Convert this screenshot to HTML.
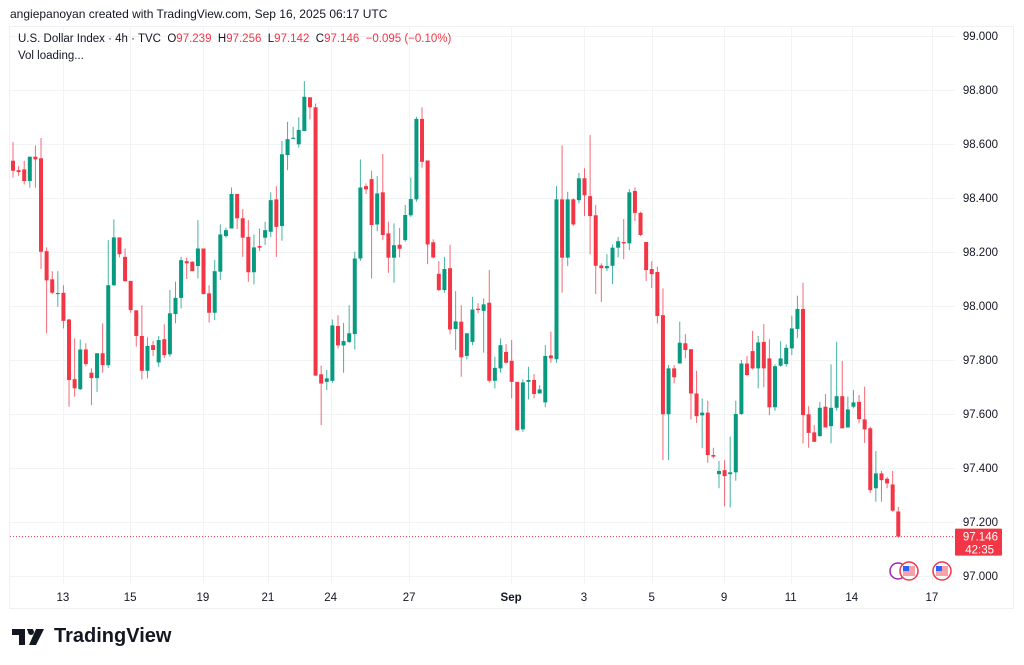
<!DOCTYPE html>
<html><head><meta charset="utf-8">
<style>
body{margin:0;background:#fff;font-family:"Liberation Sans",sans-serif;}
#wrap{position:relative;width:1024px;height:665px;overflow:hidden;background:#fff;}
.hdr{position:absolute;left:10px;top:7px;font-size:12px;color:#131722;}
.legend{position:absolute;left:18px;top:33px;font-size:11.5px;color:#131722;white-space:nowrap;}
.legend .v{color:#f23645;}
.vol{position:absolute;left:18px;top:50px;font-size:11.5px;color:#131722;}
.logo{position:absolute;left:12px;top:625px;font-size:20px;font-weight:bold;color:#131722;display:flex;align-items:center;gap:6px;}
</style></head>
<body>
<div id="wrap">
<div class="hdr">angiepanoyan created with TradingView.com, Sep 16, 2025 06:17 UTC</div>
<svg id="chart" width="1024" height="665" style="position:absolute;left:0;top:0"></svg>
<div class="legend">U.S. Dollar Index · 4h · TVC &nbsp;O<span class="v">97.239</span> &nbsp;H<span class="v">97.256</span> &nbsp;L<span class="v">97.142</span> &nbsp;C<span class="v">97.146</span> &nbsp;<span class="v">−0.095 (−0.10%)</span></div>
<div class="vol">Vol loading...</div>
<div class="logo"><svg width="36" height="16" viewBox="0 0 36 16"><path d="M0 0h13v16h-6V6H0z M15 0a3 3 0 1 1 0 .1z M24 0h8l-8 16h-7z" fill="#131722"/><circle cx="19" cy="3" r="3" fill="#131722"/></svg><span>TradingView</span></div>
</div>
<script>
const opens=[98.538,98.503,98.506,98.463,98.553,98.547,98.203,98.099,98.044,98.049,97.950,97.729,97.692,97.839,97.753,97.733,97.825,97.781,98.077,98.254,98.182,98.093,97.984,97.889,97.760,97.855,97.791,97.877,97.821,97.970,98.030,98.166,98.164,98.148,98.213,98.047,97.975,98.127,98.259,98.287,98.415,98.325,98.256,98.125,98.222,98.253,98.275,98.395,98.296,98.559,98.619,98.599,98.648,98.773,98.736,97.747,97.719,97.723,97.926,97.854,97.867,97.896,98.176,98.444,98.470,98.302,98.421,98.269,98.179,98.227,98.244,98.336,98.395,98.693,98.539,98.236,98.119,98.059,98.140,97.915,97.942,97.815,97.867,97.990,97.982,98.012,97.723,97.769,97.830,97.797,97.719,97.543,97.719,97.726,97.676,97.643,97.817,97.803,98.395,98.179,98.395,98.392,98.473,98.407,98.336,98.150,98.140,98.149,98.216,98.237,98.232,98.426,98.345,98.237,98.137,98.126,97.966,97.599,97.769,97.787,97.862,97.840,97.676,97.595,97.605,97.448,97.377,97.392,97.377,97.384,97.600,97.787,97.833,97.769,97.867,97.806,97.625,97.779,97.785,97.843,97.915,97.989,97.599,97.532,97.518,97.627,97.555,97.623,97.666,97.550,97.627,97.645,97.580,97.547,97.325,97.380,97.360,97.339,97.239];
const highs=[98.607,98.518,98.538,98.553,98.595,98.622,98.217,98.129,98.129,98.077,97.952,97.880,97.876,97.862,97.769,97.825,97.936,98.244,98.321,98.254,98.213,98.093,97.984,98.003,97.884,97.871,97.889,97.932,98.059,98.090,98.182,98.179,98.166,98.318,98.213,98.077,98.170,98.302,98.290,98.439,98.415,98.359,98.318,98.265,98.287,98.312,98.421,98.444,98.611,98.682,98.664,98.699,98.833,98.773,98.750,97.779,97.763,97.950,97.966,97.938,98.003,98.201,98.543,98.454,98.501,98.481,98.563,98.312,98.306,98.289,98.374,98.476,98.701,98.736,98.539,98.247,98.166,98.182,98.227,98.055,98.003,97.899,98.034,98.010,98.028,98.133,97.812,97.880,97.859,97.874,97.719,97.728,97.775,97.748,97.707,97.855,97.905,98.444,98.595,98.423,98.399,98.493,98.510,98.633,98.374,98.158,98.192,98.228,98.256,98.322,98.433,98.439,98.349,98.237,98.166,98.145,98.065,97.781,97.781,97.942,97.896,97.840,97.760,97.658,97.649,97.475,97.426,97.429,97.516,97.649,97.800,97.815,97.908,97.889,97.933,97.877,97.784,97.870,97.858,97.964,98.038,98.086,97.629,97.559,97.645,97.674,97.784,97.867,97.797,97.664,97.689,97.670,97.701,97.553,97.463,97.389,97.367,97.389,97.256];
const lows=[98.476,98.482,98.450,98.438,98.438,98.137,97.899,98.044,97.997,97.917,97.627,97.664,97.689,97.777,97.633,97.682,97.753,97.771,98.074,98.180,98.090,97.975,97.849,97.728,97.732,97.815,97.775,97.808,97.812,97.936,97.991,98.100,98.129,98.102,98.044,97.939,97.948,98.096,98.253,98.287,98.285,98.182,98.090,98.080,98.203,98.226,98.256,98.182,98.242,98.503,98.618,98.586,98.648,98.691,97.742,97.559,97.689,97.716,97.843,97.753,97.862,97.839,98.167,98.415,98.102,98.277,98.244,98.123,98.086,98.180,98.238,98.330,98.386,98.512,98.155,98.176,98.056,98.049,97.895,97.837,97.738,97.802,97.855,97.973,97.827,97.716,97.695,97.753,97.787,97.658,97.538,97.534,97.654,97.658,97.676,97.625,97.790,97.790,98.049,98.148,98.297,98.380,98.333,98.191,98.044,98.015,98.130,98.081,98.180,98.173,98.207,98.315,98.259,98.093,98.067,97.936,97.429,97.429,97.713,97.787,97.806,97.580,97.567,97.473,97.419,97.436,97.325,97.259,97.254,97.353,97.596,97.740,97.765,97.695,97.699,97.596,97.612,97.775,97.775,97.818,97.882,97.491,97.475,97.497,97.516,97.550,97.491,97.612,97.547,97.550,97.621,97.565,97.493,97.308,97.275,97.275,97.325,97.238,97.142];
const closes=[98.501,98.496,98.463,98.553,98.543,98.201,98.095,98.049,98.048,97.945,97.726,97.695,97.839,97.785,97.733,97.825,97.781,98.077,98.254,98.192,98.092,97.985,97.889,97.760,97.852,97.837,97.874,97.818,97.973,98.030,98.170,98.158,98.129,98.213,98.044,97.975,98.129,98.265,98.281,98.415,98.325,98.253,98.125,98.217,98.216,98.281,98.392,98.293,98.562,98.618,98.623,98.652,98.775,98.736,97.742,97.713,97.732,97.928,97.854,97.870,97.899,98.176,98.439,98.432,98.300,98.417,98.263,98.179,98.225,98.212,98.337,98.396,98.693,98.534,98.228,98.180,98.059,98.137,97.913,97.943,97.810,97.899,97.987,97.985,98.006,97.723,97.771,97.855,97.790,97.719,97.540,97.717,97.726,97.674,97.691,97.815,97.806,98.395,98.179,98.395,98.302,98.473,98.410,98.333,98.149,98.140,98.148,98.216,98.240,98.232,98.421,98.345,98.263,98.133,98.118,97.963,97.599,97.769,97.736,97.864,97.837,97.676,97.592,97.605,97.448,97.442,97.389,97.370,97.384,97.600,97.787,97.744,97.769,97.865,97.769,97.625,97.777,97.806,97.845,97.917,97.989,97.596,97.530,97.497,97.623,97.550,97.623,97.666,97.547,97.617,97.643,97.581,97.543,97.318,97.380,97.355,97.343,97.242,97.146];
const priceTicks=[99.0,98.8,98.6,98.4,98.2,98.0,97.8,97.6,97.4,97.2,97.0];
const timeTickLabels=["13","15","19","21","24","27","Sep","3","5","9","11","14","17"];
const timeTickIndex=[8.9,20.9,33.9,45.5,56.7,70.7,88.9,101.9,114,126.9,138.8,149.7,164];
const lastPrice=97.146;

const NS="http://www.w3.org/2000/svg";
const svg=document.getElementById('chart');
const X0=13, DX=5.603;
function xS(i){return X0+i*DX;}
function yS(p){return 576-(p-97)*270;}
function el(tag,attrs,parent){const e=document.createElementNS(NS,tag);for(const k in attrs)e.setAttribute(k,attrs[k]);(parent||svg).appendChild(e);return e;}

const frame=el('rect',{x:9.5,y:26.5,width:1004,height:582,fill:'none',stroke:'#eef0f3'});


const grid=el('g',{});


priceTicks.forEach(p=>{
  const y=Math.round(yS(p))+0.5;
  el('line',{x1:10,x2:955,y1:y,y2:y,stroke:'#f2f3f5'},grid);
  const t=el('text',{x:998,y:yS(p)+4,'text-anchor':'end','font-size':11.5,fill:'#131722','font-family':'Liberation Sans, sans-serif'});
  t.textContent=p.toFixed(3);
  
  
});
timeTickIndex.forEach((ix,k)=>{
  const x=Math.round(xS(ix))+0.5;
  el('line',{x1:x,x2:x,y1:27,y2:584,stroke:'#f2f3f5'},grid);
  const t=el('text',{x:xS(ix),y:601,'text-anchor':'middle','font-size':11.5,fill:'#131722','font-family':'Liberation Sans, sans-serif','font-weight':timeTickLabels[k]==='Sep'?'bold':'normal'});
  t.textContent=timeTickLabels[k];
  
  
});
const cg=el('g',{});


for(let i=0;i<closes.length;i++){
  const up=closes[i]>=opens[i];
  const col=up?'#089981':'#f23645';
  const x=xS(i);
  const g=el('g',{},cg);
  
  
  el('line',{x1:x,x2:x,y1:yS(highs[i]),y2:yS(lows[i]),stroke:col,'stroke-width':1,'stroke-opacity':0.75},g);
  const top=yS(Math.max(opens[i],closes[i])), bot=yS(Math.min(opens[i],closes[i]));
  el('rect',{x:x-2,y:top,width:4,height:Math.max(1,bot-top),fill:col},g);
}
const ly=yS(lastPrice);
const pl=el('line',{x1:10,x2:955,y1:ly,y2:ly,stroke:'#f23645','stroke-dasharray':'1 2','stroke-width':1});


const tag=el('g',{});


el('rect',{x:955,y:ly-8,width:47,height:27,fill:'#f23645',rx:1},tag);
const t1=el('text',{x:998,y:ly+4,'text-anchor':'end','font-size':11.5,fill:'#fff','font-family':'Liberation Sans, sans-serif'},tag);t1.textContent=lastPrice.toFixed(3);
const t2=el('text',{x:994,y:ly+17,'text-anchor':'end','font-size':11.5,fill:'#fff','font-family':'Liberation Sans, sans-serif'},tag);t2.textContent='42:35';
const ev=el('g',{});


el('circle',{cx:898,cy:571,r:8,fill:'#fff',stroke:'#9c27b0','stroke-width':1.5},ev);
[[909,571],[942,571]].forEach(c=>{
  el('circle',{cx:c[0],cy:c[1],r:9,fill:'#fff',stroke:'#f23645','stroke-width':1.5},ev);
  el('rect',{x:c[0]-6,y:c[1]-5,width:12,height:10,fill:'#f7a1a8'},ev);
  el('rect',{x:c[0]-6,y:c[1]-5,width:6,height:5,fill:'#2962ff'},ev);
});
</script>
</body></html>
